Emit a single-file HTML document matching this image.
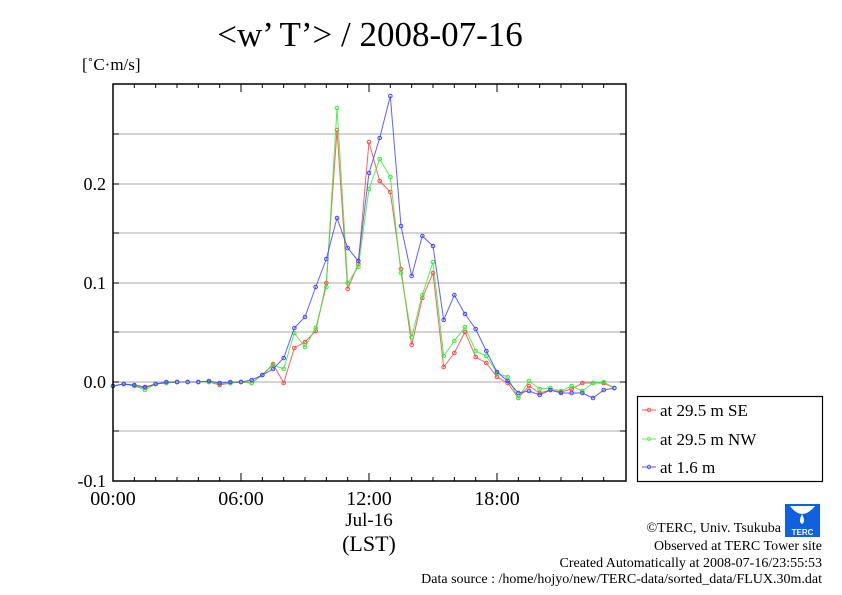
<!DOCTYPE html>
<html><head><meta charset="utf-8"><style>
html,body{margin:0;padding:0;background:#fff;}
svg{display:block;font-family:"Liberation Serif",serif;}
</style></head><body>
<svg id="s" width="842" height="595" xmlns="http://www.w3.org/2000/svg">
<rect width="842" height="595" fill="#fff"/>
<text x="370" y="46" font-size="35" text-anchor="middle">&lt;w’ T’&gt; / 2008-07-16</text>
<text x="82" y="70" font-size="17">[˚C·m/s]</text>
<g stroke="#aaa" stroke-width="1">
<line x1="113" x2="626" y1="134" y2="134"/><line x1="113" x2="626" y1="184" y2="184"/>
<line x1="113" x2="626" y1="233" y2="233"/><line x1="113" x2="626" y1="283" y2="283"/>
<line x1="113" x2="626" y1="332" y2="332"/><line x1="113" x2="626" y1="382" y2="382"/>
<line x1="113" x2="626" y1="431" y2="431"/>
</g>
<g id="ticks" stroke="#000" stroke-width="1"></g>
<g id="series" fill="none" stroke-width="1"></g>
<rect x="113" y="84" width="513" height="397" fill="none" stroke="#000" stroke-width="1.5"/>
<g font-size="18" text-anchor="end">
<text x="106" y="190">0.2</text><text x="106" y="289">0.1</text>
<text x="106" y="388">0.0</text><text x="106" y="487">-0.1</text>
</g>
<g font-size="20" text-anchor="middle">
<text x="113" y="505">00:00</text><text x="241" y="505">06:00</text>
<text x="369" y="505">12:00</text><text x="497" y="505">18:00</text>
<text x="369" y="526" font-size="19">Jul-16</text>
<text x="369" y="551" font-size="22">(LST)</text>
</g>
<rect x="637.5" y="396.5" width="185" height="85" fill="#fff" stroke="#000" stroke-width="1.2"/>
<g font-size="17">
<line x1="642" x2="656" y1="410" y2="410" stroke="#f55"/><circle cx="649" cy="410" r="1.7" fill="none" stroke="#f55"/>
<text x="660" y="416">at 29.5 m SE</text>
<line x1="642" x2="656" y1="439" y2="439" stroke="#5f5"/><circle cx="649" cy="439" r="1.7" fill="none" stroke="#5f5"/>
<text x="660" y="445">at 29.5 m NW</text>
<line x1="642" x2="656" y1="467" y2="467" stroke="#55f"/><circle cx="649" cy="467" r="1.7" fill="none" stroke="#55f"/>
<text x="660" y="473">at 1.6 m</text>
</g>
<g>
<rect x="785" y="504" width="35" height="33" fill="#1060e0"/>
<path d="M790 506 Q802 522 815 506 Z" fill="#fff"/>
<path d="M802 514 Q798 522 802 524 Q806 522 802 514Z" fill="#fff"/>
<text x="802.5" y="535" font-size="8" fill="#fff" text-anchor="middle" font-family="Liberation Sans,sans-serif" font-weight="bold">TERC</text>
</g>
<g font-size="14" text-anchor="end">
<text x="781" y="532">©TERC, Univ. Tsukuba</text>
<text x="822" y="550">Observed at TERC Tower site</text>
<text x="822" y="567">Created Automatically at 2008-07-16/23:55:53</text>
<text x="822" y="583">Data source : /home/hojyo/new/TERC-data/sorted_data/FLUX.30m.dat</text>
</g>
</svg>
<script>
var NS="http://www.w3.org/2000/svg";
function el(p,t,a){var e=document.createElementNS(NS,t);for(var k in a)e.setAttribute(k,a[k]);p.appendChild(e);return e;}
var tk=document.getElementById("ticks");
for(var h=1;h<24;h++){var x=113+h*21.333;var L=(h%6==0)?8:4;
el(tk,"line",{x1:x,x2:x,y1:84,y2:84+L});el(tk,"line",{x1:x,x2:x,y1:481,y2:481-L});}
[134,184,233,283,332,382,431].forEach(function(y){el(tk,"line",{x1:113,x2:119,y1:y,y2:y});el(tk,"line",{x1:620,x2:626,y1:y,y2:y});});
var R=[386,384,386,388,384,383,382,382,382,382,385,383,382,383,375,364,383,348,342,331,283,130,289,264,142,181,192,269,345,298,273,367,353,332,357,363,377,383,398,386,393,390,392,389,383,383,383,388];
var G=[386,384,386,390,384,383,382,382,382,382,384,383,382,383,375,365,369,333,347,328,287,108,283,267,189,159,177,273,337,295,262,356,341,327,351,356,373,377,398,381,389,388,391,386,391,383,382,388];
var B=[386,384,385,387,384,382,382,382,382,381,383,382,382,380,375,369,358,328,317,287,259,218,248,261,173,138,96,226,276,236,246,320,295,314,329,351,372,381,393,391,395,390,393,393,393,398,390,388];
var S=document.getElementById("series");
[[R,"#f44"],[G,"#3e3"],[B,"#44f"]].forEach(function(s){
var pts=s[0].map(function(y,k){return (113+10.667*k).toFixed(1)+","+y;}).join(" ");
el(S,"polyline",{points:pts,stroke:s[1],"stroke-opacity":0.85});
s[0].forEach(function(y,k){el(S,"circle",{cx:113+10.667*k,cy:y,r:1.8,stroke:s[1]});});
});
</script>
</body></html>
